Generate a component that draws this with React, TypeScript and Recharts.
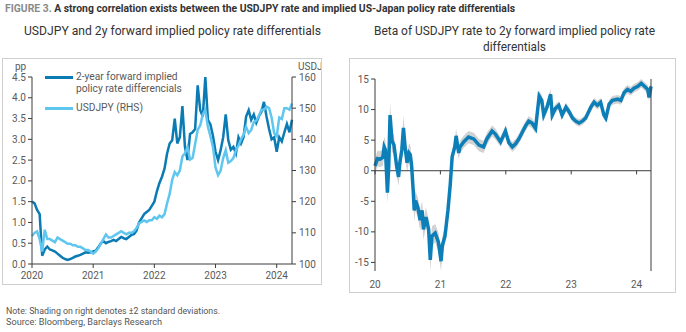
import React from "react";
import { LineChart, Line, XAxis, YAxis, ComposedChart, Area, ReferenceLine } from "recharts";

const FONT = "'Liberation Sans Narrow', Roboto, sans-serif";
const AXIS = "#3c3c3c";
const LABEL = "#595959";
const DARK = "#0b7bb4";
const LIGHT = "#5fc6f0";
const BETA = "#0d7fb8";
const BAND = "#d2d2d2";

// left panel: half-monthly observations from Jan 2020
const START = 2020;
const STEP = 1 / 24;
const diffValues = [
  1.5, 1.46, 1.3, 1.2, 0.2, 0.35, 0.42, 0.35, 0.33, 0.3,
  0.25, 0.2, 0.15, 0.12, 0.1, 0.12, 0.15, 0.18, 0.2, 0.22,
  0.25, 0.28, 0.27, 0.28, 0.3, 0.32, 0.4, 0.5, 0.55, 0.5,
  0.53, 0.55, 0.58, 0.55, 0.6, 0.65, 0.62, 0.6, 0.65, 0.7,
  0.72, 0.8, 1.0, 1.1, 1.2, 1.25, 1.3, 1.4, 1.5, 1.75,
  1.95, 2.1, 2.3, 2.66, 2.9, 2.98, 3.5, 2.9, 3.05, 3.8,
  2.82, 2.5, 3.13, 3.17, 3.25, 4.3, 3.7, 3.55, 4.5, 3.47,
  3.36, 3.08, 2.7, 2.5, 2.74, 3.05, 3.6, 2.98, 2.75, 2.82,
  2.66, 3.05, 2.9, 3.05, 3.55, 3.7, 3.47, 3.6, 3.4, 3.55,
  3.66, 3.9, 3.55, 3.25, 3.0, 3.05, 2.7, 3.05, 2.95, 3.17,
  3.37, 3.17, 3.47,
];
const usdjpyValues = [
  109, 110, 110.5, 108, 104, 111, 108, 108, 107.5, 107,
  108.5, 108, 107.5, 107, 106.5, 106.5, 106, 106, 105.5, 105.5,
  105, 104.5, 104.5, 104, 103.3, 104, 105, 106.5, 108, 109.5,
  108.5, 108.5, 109, 109.5, 110, 110.5, 110, 109.5, 110, 110,
  110.5, 111.5, 113, 113.5, 114, 113.5, 114, 114, 115, 114.5,
  115.5, 115, 116, 119.5, 122.5, 127, 129.5, 128.5, 130, 134.5,
  135.5, 137.5, 133.5, 134, 138.5, 143, 144.5, 148, 149.5, 144,
  141, 137.5, 131, 128.5, 130, 134, 136.5, 132.5, 133, 134,
  136.5, 138, 140, 141.5, 144, 142, 143, 145.5, 146, 147.5,
  149.5, 149.5, 150.5, 150, 147, 142, 141, 147, 146.5, 150,
  150, 149.5, 151.5,
];
const yearTicks = [2020, 2021, 2022, 2023, 2024];
const ppTicks = [0, 0.5, 1, 1.5, 2, 2.5, 3, 3.5, 4, 4.5];
const jpyTicks = [100, 110, 120, 130, 140, 150, 160];
const legendItems = [
  { lines: ["2-year forward implied", "policy rate differencials"], color: DARK },
  { lines: ["USDJPY (RHS)"], color: LIGHT },
];

// right panel: beta of USDJPY to the 2y fwd differential, with ±2sd band
const betaDates = [
  2020.0, 2020.04, 2020.08, 2020.12, 2020.14, 2020.16, 2020.19, 2020.21, 2020.23, 2020.26,
  2020.29, 2020.33, 2020.36, 2020.38, 2020.41, 2020.435, 2020.46, 2020.49, 2020.52, 2020.54,
  2020.56, 2020.585, 2020.6, 2020.62, 2020.655, 2020.69, 2020.72, 2020.74, 2020.78, 2020.82,
  2020.845, 2020.87, 2020.92, 2020.97, 2021.01, 2021.03, 2021.07, 2021.115, 2021.15, 2021.18,
  2021.22, 2021.24, 2021.28, 2021.3, 2021.355, 2021.43, 2021.51, 2021.59, 2021.66, 2021.71,
  2021.79, 2021.84, 2021.92, 2021.995, 2022.046, 2022.1, 2022.15, 2022.2, 2022.25, 2022.3,
  2022.35, 2022.4, 2022.455, 2022.51, 2022.55, 2022.58, 2022.63, 2022.685, 2022.71, 2022.76,
  2022.81, 2022.86, 2022.92, 2022.97, 2023.02, 2023.07, 2023.12, 2023.17, 2023.22, 2023.3,
  2023.35, 2023.4, 2023.45, 2023.5, 2023.53, 2023.58, 2023.63, 2023.71, 2023.76, 2023.81,
  2023.86, 2023.91, 2023.96, 2024.02, 2024.07, 2024.12, 2024.17, 2024.19, 2024.22,
];
const betaValues = [
  0.8, 2.0, 1.9, 2.2, 3.9, 3.4, -3.6, 0.8, 9.1, 4.9,
  4.2, 0.8, -1.0, 1.3, 3.4, 7.0, 3.9, 1.3, 2.9, 2.6,
  0.8, -3.4, -6.5, -4.9, -6.0, -8.1, -6.5, -9.6, -7.6, -9.6,
  -14.6, -10.7, -10.2, -11.7, -14.8, -12.2, -10.7, -6.5, -2.3, 2.3,
  3.9, 5.7, 2.9, 3.9, 4.7, 5.5, 5.2, 4.2, 3.9, 5.2,
  6.5, 6.0, 4.7, 6.5, 4.6, 3.9, 4.4, 5.2, 6.25, 7.3,
  8.1, 7.8, 6.9, 12.2, 11.5, 9.1, 10.4, 12.5, 9.1, 10.2,
  10.7, 9.1, 10.4, 9.6, 8.6, 8.1, 7.8, 8.1, 8.6, 10.4,
  11.2, 10.7, 11.2, 9.1, 8.6, 10.9, 11.5, 11.7, 11.5, 12.8,
  13.3, 13.0, 13.5, 13.8, 14.3, 13.8, 13.3, 12.0, 13.8,
];
const betaBand = [
  1.2, 1.3, 1.3, 1.4, 1.6, 1.6, 1.8, 1.6, 2.0, 1.8,
  1.6, 1.5, 1.5, 1.5, 1.8, 2.0, 1.8, 1.5, 1.6, 1.6,
  1.5, 1.6, 1.8, 1.6, 1.6, 1.7, 1.6, 1.7, 1.6, 1.6,
  1.8, 1.6, 1.5, 1.6, 1.6, 1.5, 1.4, 1.3, 1.2, 1.2,
  1.1, 1.2, 1.1, 1.0, 1.0, 1.0, 1.0, 1.0, 1.0, 1.0,
  0.9, 0.9, 0.8, 0.9, 0.8, 0.8, 0.8, 0.8, 0.8, 0.8,
  0.8, 0.8, 0.8, 0.9, 0.8, 0.8, 0.8, 0.9, 0.8, 0.7,
  0.7, 0.7, 0.7, 0.7, 0.6, 0.6, 0.6, 0.6, 0.6, 0.7,
  0.7, 0.7, 0.7, 0.7, 0.7, 0.7, 0.7, 0.7, 0.7, 0.7,
  0.7, 0.7, 0.7, 0.7, 0.7, 0.7, 0.7, 0.7, 0.7,
];
const betaTicks = [-15, -10, -5, 0, 5, 10, 15];

const leftData = diffValues.map((v, i) => ({ t: START + i * STEP, diff: v, usdjpy: usdjpyValues[i] }));
const betaData = betaDates.map((t, i) => ({
  t,
  beta: betaValues[i],
  band: [betaValues[i] - betaBand[i], betaValues[i] + betaBand[i]],
}));

const tickStyle = { fill: LABEL, fontSize: 10, fontFamily: FONT };

function LeftPanel() {
  return (
    <div
      style={{
        position: "absolute",
        left: 2,
        top: 58,
        width: 320,
        height: 227,
        boxSizing: "border-box",
        border: "1px solid #cfcfcf",
        overflow: "hidden",
      }}
    >
      <div style={{ position: "absolute", left: -3, top: -1 }}>
        <LineChart width={322} height={227} data={leftData} margin={{ top: 19, right: 0, bottom: 0, left: 0 }}>
          <XAxis
            dataKey="t"
            type="number"
            domain={[2020, 2024.25]}
            ticks={yearTicks}
            height={21}
            tick={tickStyle}
            tickSize={4}
            tickMargin={4}
            axisLine={{ stroke: AXIS }}
            tickLine={{ stroke: AXIS }}
          />
          <YAxis
            yAxisId="pp"
            domain={[0, 4.5]}
            ticks={ppTicks}
            width={32}
            tickFormatter={(v: number) => v.toFixed(1)}
            tick={tickStyle}
            tickSize={4}
            tickMargin={2}
            axisLine={{ stroke: AXIS }}
            tickLine={{ stroke: AXIS }}
          />
          <YAxis
            yAxisId="jpy"
            orientation="right"
            domain={[100, 160]}
            ticks={jpyTicks}
            width={30}
            tick={tickStyle}
            tickSize={4}
            tickMargin={3}
            axisLine={{ stroke: AXIS }}
            tickLine={{ stroke: AXIS }}
          />
          <Line yAxisId="pp" dataKey="diff" stroke={DARK} strokeWidth={2.5} dot={false} isAnimationActive={false} />
          <Line yAxisId="jpy" dataKey="usdjpy" stroke={LIGHT} strokeWidth={2.5} dot={false} isAnimationActive={false} />
        </LineChart>
      </div>
      <div style={{ position: "absolute", left: 12, top: 2, fontSize: 10, color: LABEL }}>pp</div>
      <div style={{ position: "absolute", left: 295, top: 2, fontSize: 10, color: LABEL, whiteSpace: "nowrap" }}>USDJ</div>
      <div style={{ position: "absolute", left: 42, top: 12 }}>
        {legendItems.map((item) => (
          <div key={item.color} style={{ display: "flex", alignItems: "flex-start", marginBottom: 7 }}>
            <span style={{ width: 28, height: 3, background: item.color, marginTop: 5, marginRight: 3, flexShrink: 0 }} />
            <span
              style={{
                fontSize: 11,
                lineHeight: "12px",
                color: LABEL,
                whiteSpace: "nowrap",
                transform: "scaleX(0.93)",
                transformOrigin: "left top",
              }}
            >
              {item.lines.map((l) => (
                <div key={l}>{l}</div>
              ))}
            </span>
          </div>
        ))}
      </div>
    </div>
  );
}

function RightPanel() {
  return (
    <div
      style={{
        position: "absolute",
        left: 349,
        top: 58,
        width: 327,
        height: 235,
        boxSizing: "border-box",
        border: "1px solid #cfcfcf",
        overflow: "hidden",
      }}
    >
      <div style={{ position: "absolute", left: -1, top: -1 }}>
        <ComposedChart width={327} height={235} data={betaData} margin={{ top: 21, right: 0, bottom: 0, left: 0 }}>
          <XAxis
            dataKey="t"
            type="number"
            domain={[2020, 2024.22]}
            ticks={yearTicks}
            tickFormatter={(v: number) => String(v).slice(2)}
            height={22}
            tick={tickStyle}
            tickSize={6}
            tickMargin={4}
            axisLine={false}
            tickLine={false}
          />
          <YAxis
            yAxisId="l"
            domain={[-15, 15]}
            ticks={betaTicks}
            width={26}
            tick={tickStyle}
            tickSize={4}
            tickMargin={2}
            axisLine={{ stroke: AXIS }}
            tickLine={{ stroke: AXIS }}
          />
          <YAxis
            yAxisId="r"
            orientation="right"
            domain={[-15, 15]}
            ticks={betaTicks}
            width={25}
            tick={tickStyle}
            tickSize={4}
            tickMargin={3}
            axisLine={{ stroke: AXIS }}
            tickLine={{ stroke: AXIS }}
          />
          <Area yAxisId="l" dataKey="band" stroke="none" fill={BAND} fillOpacity={1} isAnimationActive={false} />
          <ReferenceLine yAxisId="l" y={0} stroke={AXIS} />
          {yearTicks.map((yr) => (
            <ReferenceLine
              key={yr}
              yAxisId="l"
              segment={[
                { x: yr, y: 0 },
                { x: yr, y: -0.6 },
              ]}
              stroke={AXIS}
            />
          ))}
          <Line yAxisId="l" dataKey="beta" stroke={BETA} strokeWidth={3.5} dot={false} isAnimationActive={false} />
        </ComposedChart>
      </div>
    </div>
  );
}

export default function App() {
  return (
    <div
      style={{
        position: "absolute",
        left: 0,
        top: 0,
        width: 686,
        height: 332,
        background: "#fff",
        fontFamily: FONT,
        overflow: "hidden",
      }}
    >
      <svg width={686} height={332} style={{ position: "absolute", left: 0, top: 0 }}>
        <text x={5} y={12} fontSize={10} fontWeight="bold" fontFamily={FONT} textLength={510} lengthAdjust="spacingAndGlyphs">
          <tspan fill="#8a8a8a">FIGURE 3. </tspan>
          <tspan fill="#333">A strong correlation exists between the USDJPY rate and implied US-Japan policy rate differentials</tspan>
        </text>
        <text x={24} y={35} fontSize={13} fill="#333" fontFamily={FONT} textLength={297} lengthAdjust="spacingAndGlyphs">
          USDJPY and 2y forward implied policy rate differentials
        </text>
        <text x={374} y={35} fontSize={13} fill="#333" fontFamily={FONT} textLength={281} lengthAdjust="spacingAndGlyphs">
          Beta of USDJPY rate to 2y forward implied policy rate
        </text>
        <text x={483} y={51} fontSize={13} fill="#333" fontFamily={FONT} textLength={63} lengthAdjust="spacingAndGlyphs">
          differentials
        </text>
        <text x={6} y={314} fontSize={9} fill="#555" fontFamily={FONT} textLength={214} lengthAdjust="spacingAndGlyphs">
          Note: Shading on right denotes ±2 standard deviations.
        </text>
        <text x={6} y={325} fontSize={9} fill="#555" fontFamily={FONT} textLength={156} lengthAdjust="spacingAndGlyphs">
          Source: Bloomberg, Barclays Research
        </text>
      </svg>
      <LeftPanel />
      <RightPanel />
    </div>
  );
}
